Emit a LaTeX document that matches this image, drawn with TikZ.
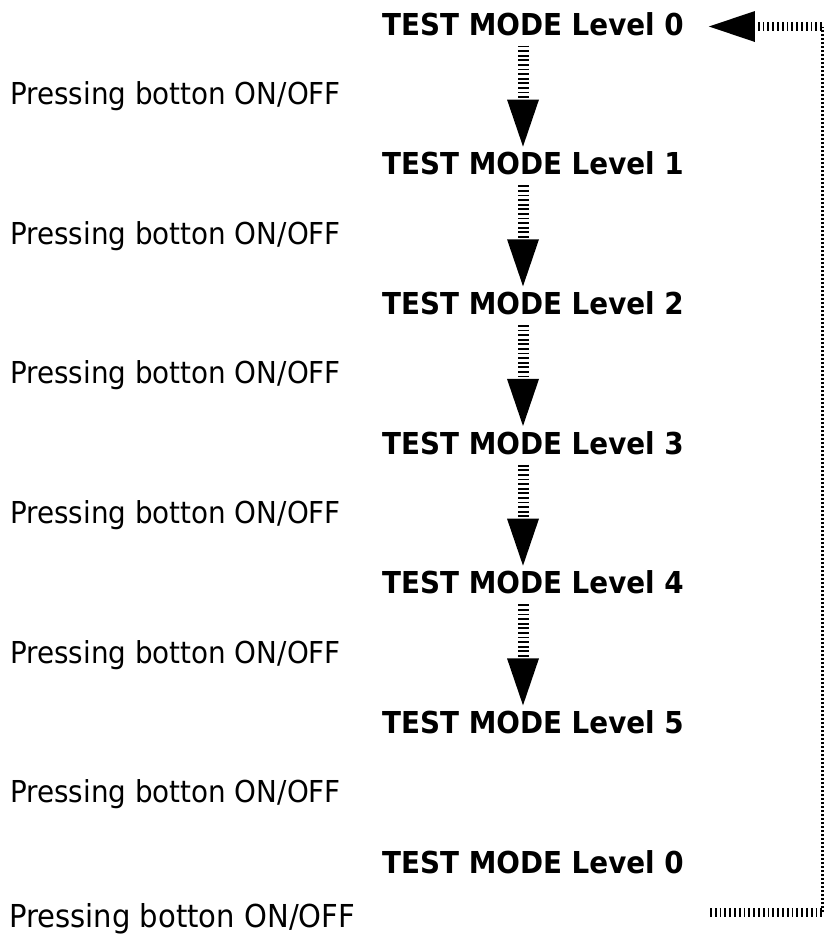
\documentclass[tikz,border=0pt]{standalone}
\usepackage{fontspec}
\setmainfont{DejaVu Sans}[FakeStretch=0.92]
\usetikzlibrary{arrows.meta}
\begin{document}
\begin{tikzpicture}[x=1pt,y=-1pt,
  lvl/.style={anchor=base west,inner sep=0pt,font=\bfseries\fontsize{30.2}{36}\selectfont},
  press/.style={anchor=base west,inner sep=0pt,font=\fontsize{30.2}{36}\selectfont},
  downarrow/.style={line width=11pt,dash pattern=on 1.8pt off 2.8pt,shorten <=10pt,shorten >=5pt,
    -{Triangle[width=32pt,length=47pt,line width=0pt]}},
  hbar/.style={line width=9pt,dash pattern=on 1.8pt off 3pt},
  vthin/.style={line width=3pt,dash pattern=on 2pt off 2pt},
  backtip/.style={-{Triangle[width=31pt,length=46pt,line width=0pt]},shorten >=25pt}]
\useasboundingbox (0,0) rectangle (824,935);
% level texts
\node[lvl] (L0) at (382,35) {TEST MODE Level 0};
\node[lvl] (L1) at (382,174.7) {TEST MODE Level 1};
\node[lvl] (L2) at (382,314.4) {TEST MODE Level 2};
\node[lvl] (L3) at (382,454.1) {TEST MODE Level 3};
\node[lvl] (L4) at (382,593.8) {TEST MODE Level 4};
\node[lvl] (L5) at (382,733.5) {TEST MODE Level 5};
\node[lvl] (L6) at (382,873.2) {TEST MODE Level 0};
% pressing texts
\node[press] (P1) at (10,104.3) {Pressing botton ON/OFF};
\node[press] (P2) at (10,244) {Pressing botton ON/OFF};
\node[press] (P3) at (10,383.7) {Pressing botton ON/OFF};
\node[press] (P4) at (10,523.4) {Pressing botton ON/OFF};
\node[press] (P5) at (10,663.1) {Pressing botton ON/OFF};
\node[press] (P6) at (10,802.8) {Pressing botton ON/OFF};
\node[press,font=\fontsize{31.6}{38}\selectfont] (P7) at (9,927) {Pressing botton ON/OFF};
% down arrows
\coordinate (ax) at (523,0);
\draw[downarrow] (L0.south -| ax) -- (L1.north -| ax);
\draw[downarrow] (L1.south -| ax) -- (L2.north -| ax);
\draw[downarrow] (L2.south -| ax) -- (L3.north -| ax);
\draw[downarrow] (L3.south -| ax) -- (L4.north -| ax);
\draw[downarrow] (L4.south -| ax) -- (L5.north -| ax);
% return connector
\coordinate (rs) at (710,912);
\coordinate (rc1) at (822,912);
\coordinate (rc2) at (822,26.5);
\draw[hbar] (rs) -- (rc1);
\draw[vthin] (rc1) -- (rc2);
\draw[hbar,backtip] (rc2) -- (rc2 -| L0.east);
\end{tikzpicture}
\end{document}
